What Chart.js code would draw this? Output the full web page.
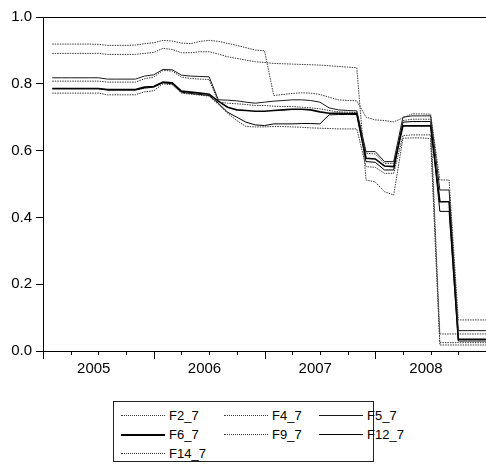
<!DOCTYPE html>
<html>
<head>
<meta charset="utf-8">
<script src="https://cdn.jsdelivr.net/npm/chart.js@4.4.1/dist/chart.umd.min.js"></script>
<style>
  body { margin: 0; background: #fff; font-family: "Liberation Sans", Arial, sans-serif; }
  #wrap { position: relative; width: 486px; height: 469px; overflow: hidden; }
  #plot { position: absolute; left: 0; top: 0; width: 486px; height: 385px; }
  #legend { position: absolute; left: 113px; top: 401px; width: 259px; height: 59px; border: 1px solid #222; }
  .swatch { position: absolute; width: 44px; height: 0; }
  .label { position: absolute; font-size: 13px; line-height: 15px; white-space: nowrap; color: #000; }
</style>
</head>
<body>
<div id="wrap">
  <div id="plot"><canvas id="chart"></canvas></div>
  <div id="legend"></div>
</div>
<script>
// monthly observations, Feb 2005 .. Jan 2009
const months = [
  '2005M02','2005M03','2005M04','2005M05','2005M06','2005M07','2005M08','2005M09','2005M10','2005M11','2005M12',
  '2006M01','2006M02','2006M03','2006M04','2006M05','2006M06','2006M07','2006M08','2006M09','2006M10','2006M11','2006M12',
  '2007M01','2007M02','2007M03','2007M04','2007M05','2007M06','2007M07','2007M08','2007M09','2007M10','2007M11','2007M12',
  '2008M01','2008M02','2008M03','2008M04','2008M05','2008M06','2008M07','2008M08','2008M09','2008M10','2008M11','2008M12',
  '2009M01'
];
const yearLabels = ['2005', '2006', '2007', '2008'];
const yTicks = [0, 0.2, 0.4, 0.6, 0.8, 1.0];

const seriesNames = ['F2_7', 'F4_7', 'F5_7', 'F6_7', 'F9_7', 'F12_7', 'F14_7'];

const f2_7 = [0.919,0.919,0.919,0.919,0.919,0.918,0.915,0.915,0.915,0.916,0.920,0.923,
  0.930,0.928,0.922,0.920,0.927,0.930,0.927,0.921,0.915,0.908,0.901,0.899,
  0.765,0.768,0.771,0.773,0.772,0.768,0.760,0.752,0.750,0.749,0.700,0.692,
  0.690,0.686,0.698,0.710,0.710,0.709,0.512,0.512,0.093,0.093,0.093,0.093];
const f4_7 = [0.891,0.891,0.891,0.891,0.891,0.891,0.888,0.888,0.888,0.888,0.891,0.894,
  0.906,0.903,0.893,0.893,0.896,0.896,0.889,0.881,0.876,0.871,0.866,0.864,
  0.861,0.860,0.859,0.858,0.857,0.856,0.854,0.852,0.850,0.848,0.512,0.506,
  0.477,0.467,0.637,0.638,0.638,0.636,0.018,0.018,0.018,0.018,0.018,0.018];
const f5_7 = [0.818,0.818,0.818,0.818,0.818,0.818,0.814,0.814,0.814,0.814,0.823,0.827,
  0.843,0.842,0.826,0.823,0.822,0.821,0.752,0.751,0.749,0.745,0.742,0.745,
  0.748,0.750,0.752,0.752,0.750,0.745,0.728,0.722,0.720,0.719,0.597,0.597,
  0.567,0.567,0.700,0.704,0.704,0.704,0.482,0.482,0.061,0.061,0.061,0.061];
const f6_7 = [0.786,0.786,0.786,0.786,0.786,0.786,0.783,0.783,0.783,0.783,0.790,0.792,
  0.805,0.803,0.778,0.775,0.772,0.769,0.748,0.730,0.722,0.720,0.718,0.718,
  0.720,0.722,0.724,0.724,0.722,0.716,0.712,0.712,0.711,0.711,0.577,0.575,
  0.554,0.552,0.674,0.674,0.674,0.674,0.447,0.447,0.035,0.035,0.035,0.035];
const f9_7 = [0.808,0.808,0.808,0.808,0.808,0.808,0.805,0.805,0.805,0.805,0.815,0.820,
  0.840,0.838,0.820,0.816,0.814,0.813,0.745,0.742,0.740,0.738,0.735,0.735,
  0.733,0.732,0.732,0.730,0.728,0.725,0.720,0.716,0.715,0.714,0.592,0.590,
  0.562,0.562,0.690,0.694,0.694,0.694,0.051,0.051,0.051,0.051,0.051,0.051];
const f12_7 = [0.785,0.785,0.785,0.785,0.785,0.785,0.781,0.781,0.781,0.781,0.787,0.790,
  0.803,0.800,0.775,0.771,0.768,0.765,0.742,0.715,0.700,0.685,0.677,0.675,
  0.680,0.680,0.680,0.681,0.681,0.680,0.707,0.708,0.708,0.708,0.567,0.565,
  0.542,0.542,0.685,0.687,0.687,0.687,0.418,0.418,0.030,0.030,0.030,0.030];
const f14_7 = [0.772,0.772,0.772,0.772,0.772,0.772,0.767,0.767,0.767,0.767,0.776,0.779,
  0.800,0.797,0.772,0.769,0.766,0.763,0.738,0.712,0.690,0.672,0.671,0.671,
  0.672,0.672,0.671,0.670,0.668,0.667,0.666,0.665,0.665,0.665,0.552,0.550,
  0.532,0.532,0.645,0.647,0.647,0.647,0.025,0.025,0.025,0.025,0.025,0.025];

const seriesValues = [f2_7, f4_7, f5_7, f6_7, f9_7, f12_7, f14_7];

// line looks: dotted grey, solid black, one heavier solid
const lineStyles = [
  { color: '#3a3a3a', width: 1, dash: [1.5, 1] },
  { color: '#3a3a3a', width: 1, dash: [1.5, 1] },
  { color: '#1a1a1a', width: 1, dash: [] },
  { color: '#000000', width: 1.6, dash: [] },
  { color: '#3a3a3a', width: 1, dash: [1.5, 1] },
  { color: '#000000', width: 1, dash: [] },
  { color: '#3a3a3a', width: 1, dash: [1.5, 1] }
];

// month offset from Jan 2005
function monthIndex(label) {
  return (Number(label.slice(0, 4)) - 2005) * 12 + Number(label.slice(5)) - 1;
}

const datasets = seriesNames.map((name, i) => ({
  label: name,
  data: seriesValues[i].map((v, j) => ({ x: monthIndex(months[j]), y: v })),
  borderColor: lineStyles[i].color,
  borderWidth: lineStyles[i].width,
  borderDash: lineStyles[i].dash,
  pointRadius: 0,
  tension: 0,
  fill: false
}));

// top frame line plus major/minor tick marks under the time axis
const frameTicks = {
  id: 'frameTicks',
  afterDraw(chart) {
    const { ctx, chartArea, scales: { x } } = chart;
    ctx.save();
    ctx.strokeStyle = '#000';
    ctx.lineWidth = 1;
    ctx.beginPath();
    ctx.moveTo(chartArea.left, chartArea.top + 0.5);
    ctx.lineTo(chartArea.right, chartArea.top + 0.5);
    for (let m = 0; m <= x.max; m += 3) {
      const px = Math.round(x.getPixelForValue(m)) + 0.5;
      const len = m % 12 === 0 ? 8 : 4;
      ctx.moveTo(px, chartArea.bottom);
      ctx.lineTo(px, chartArea.bottom + len);
    }
    ctx.stroke();
    ctx.restore();
  }
};

const font = { family: '"Liberation Sans", Arial, sans-serif', size: 15 };

new Chart(document.getElementById('chart'), {
  type: 'line',
  data: { datasets },
  options: {
    responsive: true,
    maintainAspectRatio: false,
    animation: false,
    layout: { padding: { top: 17, right: 0, left: 0, bottom: 0 } },
    plugins: { legend: { display: false }, tooltip: { enabled: false } },
    scales: {
      x: {
        type: 'linear',
        min: 0,
        max: 48,
        grid: { display: false, drawTicks: false },
        border: { display: true, color: '#000', width: 1 },
        afterBuildTicks: (scale) => {
          scale.ticks = yearLabels.map((y, i) => ({ value: i * 12 + 5.5 }));
        },
        afterFit: (scale) => { scale.height = 34; },
        ticks: {
          font, color: '#000', padding: 9, maxRotation: 0, autoSkip: false,
          callback: (v, i) => yearLabels[i]
        }
      },
      y: {
        min: 0,
        max: 1,
        grid: { display: true, drawOnChartArea: false, drawTicks: true, tickLength: 7, color: '#000' },
        border: { display: true, color: '#000', width: 1 },
        afterBuildTicks: (scale) => {
          scale.ticks = yTicks.map(v => ({ value: v }));
        },
        afterFit: (scale) => { scale.width = 43; },
        ticks: { font, color: '#000', padding: 4, callback: (v) => v.toFixed(1) }
      }
    }
  },
  plugins: [frameTicks]
});

// legend: three columns inside a framed box
const legend = document.getElementById('legend');
const colX = [7, 110, 205];
const rowY = [13, 32, 51];
seriesNames.forEach((name, i) => {
  const col = i % 3, row = Math.floor(i / 3);
  const st = lineStyles[i];
  const sw = document.createElement('div');
  sw.className = 'swatch';
  sw.style.left = colX[col] + 'px';
  sw.style.top = rowY[row] + 'px';
  sw.style.borderTop = (st.width > 1 ? 2 : 1) + 'px ' + (st.dash.length ? 'dotted ' : 'solid ') + st.color;
  legend.appendChild(sw);
  const lb = document.createElement('div');
  lb.className = 'label';
  lb.style.left = (colX[col] + 48) + 'px';
  lb.style.top = (rowY[row] - 7) + 'px';
  lb.textContent = name;
  legend.appendChild(lb);
});
</script>
</body>
</html>
